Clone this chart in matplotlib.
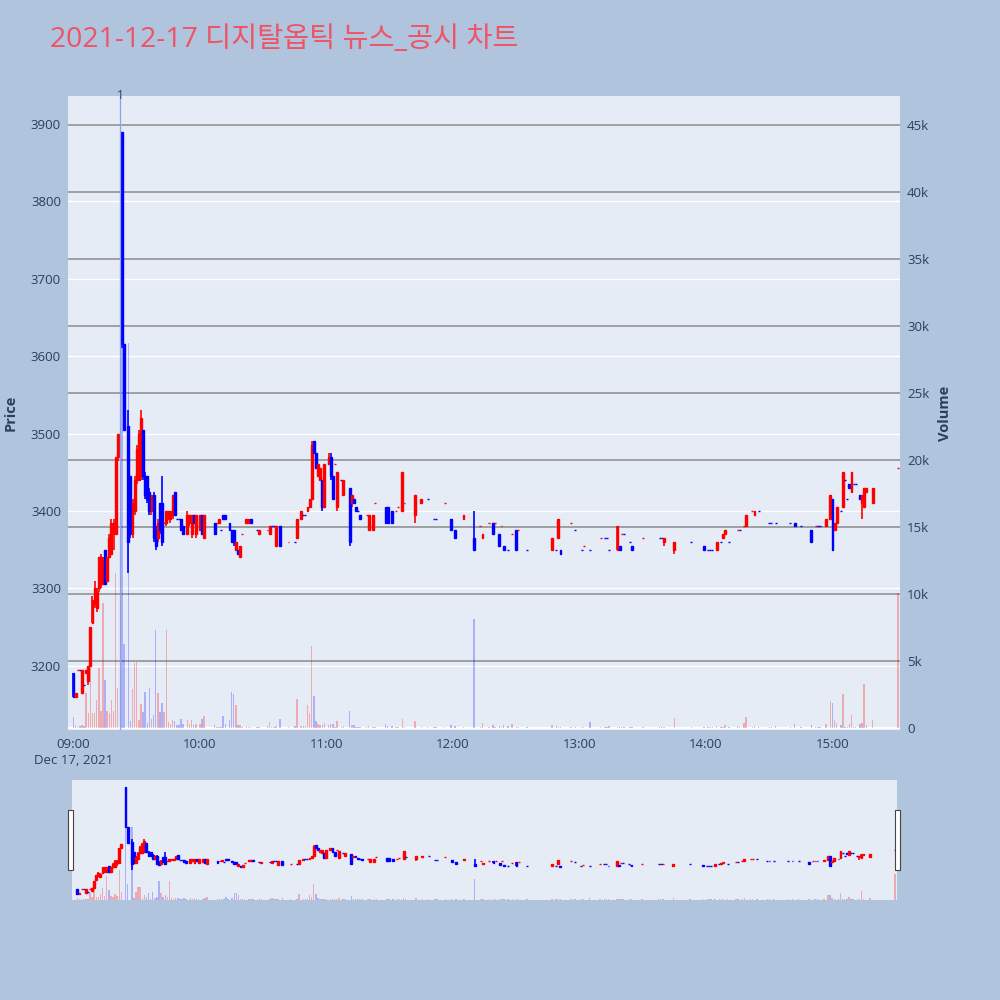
import matplotlib.pyplot as plt
from matplotlib.patches import Rectangle

plt.rcParams["font.family"] = ["Open Sans", "Noto Sans CJK KR", "DejaVu Sans"]

TITLE = "2021-12-17 디지탈옵틱 뉴스_공시 차트"

# minute offsets from 09:00, one candle per traded minute
minutes = [
    0, 1, 2, 3, 4, 5, 6, 7, 8, 9, 10, 11, 12, 13, 14, 15, 16, 17, 18, 19, 20, 21,
    23, 24, 26, 27, 28, 29, 30, 31, 32, 33, 34, 35, 36, 37, 38, 39, 40, 41, 42, 43,
    44, 45, 46, 47, 48, 49, 50, 51, 52, 54, 55, 56, 57, 58, 60, 61, 62,
    67, 68, 69, 70, 71, 72, 74, 75, 76, 77, 78, 79, 80, 82, 83, 84, 87, 88, 92, 93,
    94, 95, 96, 98, 102, 105, 106, 108, 109, 110, 111, 112, 113, 114, 115, 116, 117,
    118, 119, 121, 122, 123, 124, 125, 127, 128, 131,
    132, 133, 134, 135, 136, 139, 140, 142, 143, 148, 149, 151, 153, 154, 156, 157,
    162, 165, 168, 171, 172, 176, 179, 181, 185, 190, 193, 194, 197, 199, 200, 202,
    203, 204, 206, 208, 210, 211, 215, 227, 229, 230, 231, 236, 238, 241, 242, 245,
    250, 252, 253, 254, 258, 259, 260, 261, 264, 265, 270, 278, 279, 280, 285, 293,
    299, 301, 302, 303, 305, 307, 308, 309, 311, 315, 316, 318, 319, 322, 323, 325,
    330, 331, 333, 340, 342, 345, 350, 352, 353, 354, 357, 359, 360, 361, 362, 364,
    365, 366, 367, 368, 369, 370, 371, 373, 374, 375, 376, 379, 391,
]
opens = [
    3190, 3160, 3195, 3195, 3165, 3175, 3190, 3180, 3200, 3255, 3280, 3275, 3300, 3305, 3305, 3350, 3310, 3340, 3345, 3370, 3370, 3470,
    3890, 3615, 3510, 3445, 3370, 3400, 3440, 3440, 3445, 3505, 3445, 3445, 3425, 3400, 3420, 3375, 3365, 3410, 3410, 3385,
    3385, 3390, 3390, 3395, 3425, 3390, 3390, 3390, 3380, 3370, 3385, 3370, 3395, 3370, 3375, 3395, 3365,
    3385, 3385, 3385, 3375, 3395, 3395, 3385, 3375, 3375, 3350, 3350, 3340, 3370, 3385, 3385, 3390, 3375, 3370, 3375, 3370,
    3380, 3380, 3355, 3380, 3360, 3360, 3365, 3390, 3395, 3395, 3400, 3405, 3415, 3490, 3475, 3445, 3440,
    3440, 3405, 3460, 3470, 3445, 3460, 3405, 3440, 3420, 3430,
    3410, 3415, 3405, 3400, 3395, 3395, 3375, 3375, 3410, 3405, 3405, 3400, 3400, 3405, 3400, 3410,
    3395, 3410, 3415, 3390, 3390, 3410, 3390, 3375, 3390, 3365, 3380, 3365, 3385, 3385, 3385, 3370,
    3380, 3355, 3350, 3370, 3375, 3375, 3350, 3350, 3350, 3365, 3350, 3385, 3375, 3350, 3355, 3350,
    3365, 3365, 3365, 3350, 3350, 3355, 3370, 3370, 3360, 3355, 3365, 3365, 3365, 3360, 3350, 3360,
    3355, 3350, 3350, 3350, 3350, 3360, 3365, 3370, 3360, 3375, 3375, 3380, 3380, 3400, 3395, 3400,
    3385, 3385, 3385, 3385, 3385, 3380, 3375, 3380, 3380, 3380, 3380, 3390, 3415, 3375, 3385, 3400,
    3405, 3440, 3415, 3435, 3425, 3435, 3435, 3420, 3410, 3405, 3425, 3410, 3455,
]
highs = [
    3190, 3165, 3195, 3195, 3195, 3175, 3195, 3200, 3250, 3290, 3310, 3300, 3340, 3345, 3340, 3350, 3340, 3370, 3390, 3390, 3470, 3500,
    3890, 3615, 3530, 3445, 3415, 3445, 3485, 3505, 3530, 3505, 3450, 3445, 3430, 3420, 3425, 3380, 3390, 3410, 3445, 3385,
    3400, 3400, 3400, 3420, 3425, 3390, 3390, 3390, 3380, 3400, 3395, 3395, 3395, 3395, 3395, 3395, 3395,
    3385, 3385, 3390, 3375, 3395, 3395, 3385, 3375, 3375, 3360, 3350, 3355, 3370, 3390, 3390, 3390, 3375, 3375, 3375, 3380,
    3380, 3380, 3380, 3380, 3360, 3360, 3390, 3400, 3395, 3395, 3405, 3415, 3490, 3490, 3475, 3460, 3455,
    3440, 3460, 3475, 3475, 3445, 3460, 3450, 3440, 3440, 3430,
    3420, 3415, 3405, 3400, 3395, 3395, 3395, 3395, 3410, 3405, 3405, 3400, 3400, 3405, 3450, 3410,
    3420, 3415, 3415, 3390, 3390, 3410, 3390, 3375, 3395, 3400, 3380, 3370, 3385, 3385, 3385, 3370,
    3380, 3355, 3350, 3370, 3375, 3375, 3350, 3365, 3350, 3390, 3350, 3385, 3375, 3350, 3355, 3350,
    3365, 3365, 3365, 3350, 3380, 3355, 3370, 3370, 3360, 3355, 3365, 3365, 3365, 3365, 3360, 3360,
    3355, 3350, 3350, 3350, 3360, 3360, 3370, 3375, 3360, 3375, 3375, 3380, 3395, 3400, 3400, 3400,
    3385, 3385, 3385, 3385, 3385, 3380, 3375, 3380, 3380, 3380, 3390, 3420, 3415, 3385, 3405, 3400,
    3450, 3440, 3415, 3435, 3450, 3435, 3435, 3420, 3420, 3430, 3430, 3430, 3455,
]
lows = [
    3160, 3160, 3195, 3195, 3165, 3175, 3190, 3175, 3200, 3255, 3275, 3270, 3295, 3300, 3305, 3305, 3310, 3340, 3345, 3350, 3370, 3465,
    3610, 3505, 3320, 3365, 3365, 3395, 3435, 3440, 3440, 3440, 3415, 3410, 3395, 3395, 3360, 3350, 3360, 3370, 3355, 3385,
    3380, 3390, 3385, 3390, 3395, 3390, 3390, 3375, 3370, 3370, 3380, 3365, 3385, 3365, 3375, 3370, 3365,
    3370, 3385, 3385, 3375, 3390, 3390, 3375, 3360, 3355, 3350, 3345, 3340, 3370, 3385, 3385, 3385, 3375, 3370, 3375, 3370,
    3380, 3380, 3355, 3355, 3360, 3360, 3365, 3390, 3395, 3395, 3400, 3405, 3415, 3475, 3455, 3445, 3440,
    3400, 3405, 3460, 3440, 3415, 3460, 3400, 3440, 3420, 3355,
    3405, 3410, 3400, 3400, 3390, 3395, 3375, 3375, 3410, 3385, 3385, 3385, 3400, 3405, 3400, 3410,
    3385, 3410, 3415, 3390, 3390, 3410, 3375, 3365, 3390, 3350, 3380, 3365, 3385, 3370, 3385, 3355,
    3380, 3350, 3350, 3370, 3350, 3375, 3350, 3350, 3350, 3365, 3345, 3385, 3375, 3350, 3355, 3350,
    3365, 3365, 3365, 3350, 3350, 3350, 3370, 3370, 3360, 3350, 3365, 3365, 3365, 3355, 3345, 3360,
    3350, 3350, 3350, 3350, 3350, 3360, 3365, 3370, 3360, 3375, 3375, 3380, 3380, 3400, 3395, 3400,
    3385, 3385, 3385, 3385, 3380, 3380, 3360, 3380, 3380, 3380, 3380, 3390, 3350, 3375, 3385, 3400,
    3405, 3440, 3415, 3430, 3425, 3435, 3435, 3415, 3390, 3405, 3425, 3410, 3455,
]
closes = [
    3160, 3165, 3195, 3195, 3195, 3175, 3195, 3200, 3250, 3285, 3300, 3295, 3340, 3340, 3335, 3305, 3340, 3365, 3385, 3385, 3470, 3500,
    3615, 3505, 3360, 3370, 3410, 3440, 3480, 3500, 3520, 3445, 3420, 3415, 3400, 3420, 3365, 3355, 3385, 3375, 3360, 3385,
    3400, 3400, 3400, 3420, 3395, 3390, 3390, 3375, 3370, 3395, 3395, 3395, 3385, 3395, 3395, 3370, 3395,
    3370, 3385, 3390, 3375, 3390, 3390, 3375, 3360, 3360, 3360, 3345, 3355, 3370, 3390, 3390, 3385, 3375, 3375, 3375, 3380,
    3380, 3380, 3380, 3355, 3360, 3360, 3390, 3400, 3395, 3395, 3405, 3415, 3485, 3475, 3455, 3460, 3455,
    3405, 3460, 3470, 3445, 3415, 3460, 3450, 3440, 3440, 3360,
    3420, 3410, 3400, 3400, 3390, 3395, 3395, 3395, 3410, 3385, 3385, 3385, 3400, 3405, 3450, 3410,
    3420, 3415, 3415, 3390, 3390, 3410, 3375, 3365, 3395, 3350, 3380, 3370, 3385, 3370, 3385, 3355,
    3380, 3350, 3350, 3370, 3350, 3375, 3350, 3365, 3350, 3390, 3345, 3385, 3375, 3350, 3355, 3350,
    3365, 3365, 3365, 3350, 3380, 3350, 3370, 3370, 3360, 3350, 3365, 3365, 3365, 3365, 3360, 3360,
    3350, 3350, 3350, 3350, 3360, 3360, 3370, 3375, 3360, 3375, 3375, 3380, 3395, 3400, 3400, 3400,
    3385, 3385, 3385, 3385, 3380, 3380, 3360, 3380, 3380, 3380, 3390, 3420, 3350, 3385, 3405, 3400,
    3450, 3440, 3415, 3430, 3450, 3435, 3435, 3415, 3420, 3430, 3430, 3430, 3455,
]
volumes = [
    800, 250, 100, 150, 200, 150, 2600, 1100, 4500, 1100, 1100, 2100, 4500, 1300, 9300, 3600, 1300, 1100, 2100, 1300, 11600, 3000,
    28400, 6300, 28700, 500, 2900, 4850, 4900, 600, 1800, 1200, 2700, 400, 3000, 700, 1000, 7300, 2600, 1200, 1900, 1200,
    7300, 450, 300, 600, 500, 200, 200, 650, 300, 600, 300, 600, 200, 300, 300, 700, 900,
    220, 100, 100, 100, 900, 300, 600, 2700, 2500, 1700, 200, 200, 100, 150, 100, 100, 100, 100, 150, 470,
    100, 100, 150, 640, 100, 150, 2160, 150, 150, 150, 1700, 1100, 6100, 2350, 500, 300, 200,
    250, 400, 200, 300, 300, 100, 500, 100, 150, 1300,
    200, 200, 100, 100, 100, 100, 150, 100, 100, 300, 150, 150, 100, 100, 640, 100,
    500, 100, 100, 100, 100, 80, 200, 150, 100, 8100, 100, 400, 100, 200, 80, 150,
    80, 250, 150, 300, 100, 80, 80, 200, 150, 100, 100, 80, 80, 100, 80, 450,
    100, 100, 80, 150, 100, 80, 100, 80, 100, 100, 80, 80, 80, 100, 750, 80,
    100, 80, 80, 80, 150, 100, 100, 200, 100, 150, 100, 400, 800, 100, 150, 100,
    100, 100, 150, 100, 300, 100, 200, 100, 100, 100, 300, 2000, 1900, 600, 400, 200,
    2500, 100, 100, 300, 1000, 100, 100, 300, 400, 3300, 200, 600, 10100,
]
assert len(minutes) == len(opens) == len(highs) == len(lows) == len(closes) == len(volumes)

news_minute = 22
news_label = "1"
hour_ticks = [0, 60, 120, 180, 240, 300, 360]
hour_labels = ["09:00\nDec 17, 2021", "10:00", "11:00", "12:00", "13:00", "14:00", "15:00"]
price_ticks = [3200, 3300, 3400, 3500, 3600, 3700, 3800, 3900]
vol_ticks = [0, 5000, 10000, 15000, 20000, 25000, 30000, 35000, 40000, 45000]
vol_labels = ["0", "5k", "10k", "15k", "20k", "25k", "30k", "35k", "40k", "45k"]

PRICE_LIM = (3117, 3936)
VOL_LIM = (-150, 47160)
X_LIM = (-2.6, 392)
BG = "#B0C4DE"
PLOT_BG = "#E5ECF6"
TXT = "#2a3f5f"
UP, DOWN = "#FF0000", "#0000FF"

# candle direction: doji takes the direction of the move from the previous close
up = []
prev = opens[0]
for o, c in zip(opens, closes):
    up.append(c > o or (c == o and c > prev))
    prev = c
colors = [UP if u else DOWN for u in up]
vol_colors = [(1, 0, 0, 0.28) if u else (0, 0, 1, 0.25) for u in up]


def draw(ax_v, ax_p):
    ax_v.bar(minutes, volumes, width=0.7, color=vol_colors, zorder=2)
    ax_p.vlines(minutes, lows, highs, colors=colors, linewidth=1.2, zorder=3)
    bottoms = [min(o, c) for o, c in zip(opens, closes)]
    heights = [abs(c - o) for o, c in zip(opens, closes)]
    ax_p.bar(minutes, heights, bottom=bottoms, width=0.9, color=colors,
             edgecolor=colors, linewidth=1.0, zorder=4)
    ax_v.set_xlim(*X_LIM)
    ax_v.set_ylim(*VOL_LIM)
    ax_p.set_ylim(*PRICE_LIM)
    for a in (ax_v, ax_p):
        for s in a.spines.values():
            s.set_visible(False)


fig = plt.figure(figsize=(10, 10), dpi=100, facecolor=BG)
fig.text(0.05, 0.96, TITLE, fontsize=20.4, color="#EF5366", va="center", ha="left")

# main chart: volume axes underneath (right scale), price axes on top (left scale)
ax_v = fig.add_axes([0.068, 0.27, 0.832, 0.634], facecolor=PLOT_BG)
ax_p = ax_v.twinx()
draw(ax_v, ax_p)

for p in price_ticks:
    frac = (p - PRICE_LIM[0]) / (PRICE_LIM[1] - PRICE_LIM[0])
    ax_v.axhline(VOL_LIM[0] + frac * (VOL_LIM[1] - VOL_LIM[0]), color="white", lw=1.0, zorder=0)
for v in vol_ticks:
    ax_v.axhline(v, color="white" if v == 0 else "#999999", lw=1.3 if v else 1.6, zorder=1)

ax_p.yaxis.tick_left()
ax_v.yaxis.tick_right()
ax_p.set_yticks(price_ticks)
ax_p.set_yticklabels([str(p) for p in price_ticks])
ax_v.set_yticks(vol_ticks)
ax_v.set_yticklabels(vol_labels)
ax_v.set_xticks(hour_ticks)
ax_v.set_xticklabels(hour_labels)
ax_v.tick_params(axis="x", length=0, pad=6, labelsize=9.5, labelcolor=TXT)
ax_v.tick_params(axis="y", length=0, pad=5, labelsize=9.5, labelcolor=TXT)
ax_p.tick_params(axis="y", length=0, pad=5, labelsize=9.5, labelcolor=TXT)
for lbl in ax_v.get_xticklabels():
    lbl.set_linespacing(1.25)

ax_p.axvline(news_minute, color="#8DA2EA", lw=0.9, zorder=5)
ax_p.text(news_minute, PRICE_LIM[1], news_label, ha="center", va="center",
          fontsize=8.5, color=TXT, zorder=6)

fig.text(0.011, 0.587, "Price", rotation=90, ha="center", va="center",
         fontsize=10.5, fontweight="bold", color=TXT)
fig.text(0.945, 0.587, "Volume", rotation=90, ha="center", va="center",
         fontsize=10.5, fontweight="bold", color=TXT)

# range slider
ax_sv = fig.add_axes([0.072, 0.10, 0.825, 0.12], facecolor=PLOT_BG)
ax_sp = ax_sv.twinx()
draw(ax_sv, ax_sp)
for a in (ax_sv, ax_sp):
    a.set_xticks([])
    a.set_yticks([])
for x0 in (0.068, 0.895):
    fig.patches.append(Rectangle((x0, 0.13), 0.005, 0.06, transform=fig.transFigure,
                                 facecolor="white", edgecolor="#444444", lw=0.8, zorder=10))

fig.savefig("out.png", dpi=100, facecolor=BG)
